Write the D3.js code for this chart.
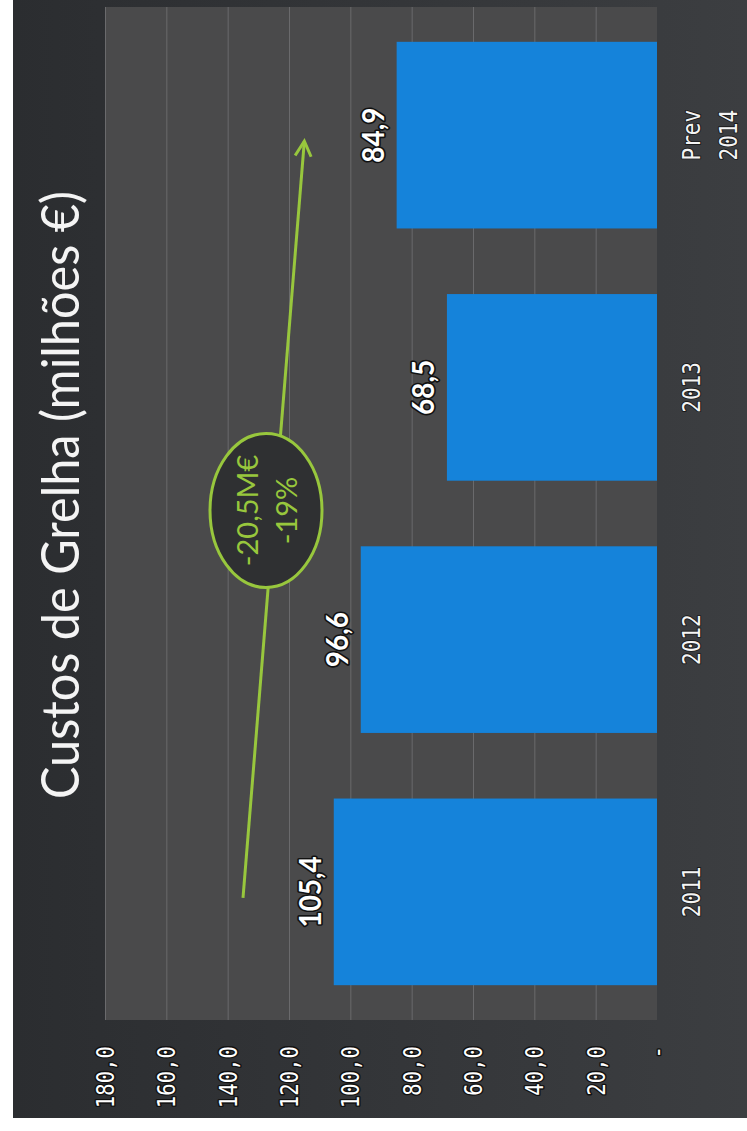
<!DOCTYPE html>
<html>
<head>
<meta charset="utf-8">
<script src="https://cdn.jsdelivr.net/npm/d3@7/dist/d3.min.js"></script>
<style>
  html, body { margin: 0; padding: 0; background: #ffffff; }
  svg { display: block; }
</style>
</head>
<body>
<svg id="chart"></svg>
<script>
// ---------- data ----------
const categories = ["2011", "2012", "2013", "Prev 2014"];
const values = [105.4, 96.6, 68.5, 84.9];
const tickValues = [0, 20, 40, 60, 80, 100, 120, 140, 160, 180];
const tickLabels = ["-", "20,0", "40,0", "60,0", "80,0", "100,0", "120,0", "140,0", "160,0", "180,0"];
const titleText = "Custos de Grelha (milhões €)";
const annotationLines = ["-20,5M€", "-19%"];
const arrowFromValue = 135;   // value level at 2011
const arrowToValue = 115;     // value level at Prev 2014
const ellipseValue = 127.5;   // value level of the annotation ellipse

// ---------- layout ----------
const W = 747, H = 1131;           // page (portrait)
const LW = H, LH = W;              // landscape drawing space (rotated -90deg)
const green = "#98c73d";

const svg = d3.select("#chart").attr("width", W).attr("height", H);
const defs = svg.append("defs");

const bgGrad = defs.append("linearGradient").attr("id", "bgGrad")
  .attr("x1", 0).attr("y1", 0).attr("x2", 0).attr("y2", 1);
bgGrad.append("stop").attr("offset", "0%").attr("stop-color", "#2b2d30");
bgGrad.append("stop").attr("offset", "100%").attr("stop-color", "#3c3e41");

const g = svg.append("g").attr("transform", `translate(0,${H}) rotate(-90)`);

// slide background
g.append("rect").attr("x", 13).attr("y", 13).attr("width", LW - 13).attr("height", LH - 13)
  .attr("fill", "url(#bgGrad)");

// scales
const x = d3.scaleBand().domain(categories).range([111, 1124])
  .paddingInner(0.26).paddingOuter(0.138);
const y = d3.scaleLinear().domain([0, 180]).range([657, 105]);

// plot area
g.append("rect").attr("x", 111).attr("y", y(180)).attr("width", 1124 - 111)
  .attr("height", y(0) - y(180)).attr("fill", "#4a4a4b");

// gridlines
g.append("g").selectAll("line").data(tickValues.filter(v => v > 0)).join("line")
  .attr("x1", 111).attr("x2", 1124)
  .attr("y1", d => y(d) + 0.5).attr("y2", d => y(d) + 0.5)
  .attr("stroke", "#6a6a6c").attr("stroke-width", 1);

function condense(sel, f) {
  sel.each(function () {
    const L = this.getComputedTextLength();
    d3.select(this).attr("textLength", L * f).attr("lengthAdjust", "spacingAndGlyphs");
  });
}

// value axis labels
const axis = d3.axisLeft(y).tickValues(tickValues).tickFormat((d, i) => tickLabels[i]).tickSize(0);
const axG = g.append("g").attr("transform", "translate(85,0)").call(axis);
axG.select(".domain").remove();
axG.selectAll("text")
  .attr("x", 0).attr("dy", "0.36em")
  .attr("text-anchor", "end")
  .attr("font-family", "'DejaVu Sans Mono', monospace")
  .attr("font-size", 24)
  .attr("fill", "#ffffff")
  .attr("stroke", "#111")
  .attr("stroke-width", 3)
  .attr("stroke-linejoin", "round")
  .attr("paint-order", "stroke");
condense(axG.selectAll("text"), 0.86);

// bars
g.append("g").selectAll("rect").data(values).join("rect")
  .attr("x", (d, i) => x(categories[i]))
  .attr("width", x.bandwidth())
  .attr("y", d => y(d))
  .attr("height", d => y(0) - y(d))
  .attr("fill", "#1583da");

// value labels
const loc = d3.formatLocale({ decimal: ",", thousands: ".", grouping: [3], currency: ["", "€"] });
const fmt = loc.format(".1f");
const vl = g.append("g").selectAll("text").data(values).join("text")
  .attr("x", (d, i) => x(categories[i]) + x.bandwidth() / 2)
  .attr("y", d => y(d) - 13)
  .attr("text-anchor", "middle")
  .attr("font-family", "Lato, sans-serif")
  .attr("font-weight", 700)
  .attr("font-size", 31)
  .attr("fill", "#ffffff")
  .attr("stroke", "#111")
  .attr("stroke-width", 3.5)
  .attr("stroke-linejoin", "round")
  .attr("paint-order", "stroke")
  .text(d => fmt(d));
condense(vl, 0.9);

// category labels
const cl = g.append("g").selectAll("text").data(categories).join("text")
  .attr("x", d => x(d) + x.bandwidth() / 2)
  .attr("y", 700)
  .attr("text-anchor", "middle")
  .attr("font-family", "'DejaVu Sans Mono', monospace")
  .attr("font-size", 24)
  .attr("fill", "#f4f4f4")
  .attr("stroke", "#1a1a1a")
  .attr("stroke-width", 2)
  .attr("stroke-linejoin", "round")
  .attr("paint-order", "stroke");
cl.each(function (d) {
  const parts = d.split(" ");
  const t = d3.select(this);
  parts.forEach((p, j) => {
    t.append("tspan").attr("x", x(d) + x.bandwidth() / 2)
      .attr("dy", j === 0 ? 0 : 37).text(p);
  });
});
cl.selectAll("tspan").each(function () {
  const L = this.getComputedTextLength();
  d3.select(this).attr("textLength", L * 0.88).attr("lengthAdjust", "spacingAndGlyphs");
});

// title
g.append("text")
  .attr("x", 636).attr("y", 79)
  .attr("text-anchor", "middle")
  .attr("font-family", "Lato, sans-serif")
  .attr("font-size", 52)
  .attr("fill", "#f4f4f4")
  .attr("textLength", 608)
  .attr("lengthAdjust", "spacingAndGlyphs")
  .text(titleText);

// trend arrow
const cx = c => x(c) + x.bandwidth() / 2;
const x1 = cx(categories[0]) - 6, y1 = y(arrowFromValue);
const x2 = cx(categories[categories.length - 1]) - 6, y2 = y(arrowToValue);
g.append("line").attr("x1", x1).attr("y1", y1).attr("x2", x2).attr("y2", y2)
  .attr("stroke", green).attr("stroke-width", 3);
const ang = Math.atan2(y2 - y1, x2 - x1);
const ah = 15, aw = 8;
const p = (l, w) => [x2 - l * Math.cos(ang) - w * Math.sin(ang), y2 - l * Math.sin(ang) + w * Math.cos(ang)];
g.append("path")
  .attr("d", d3.line()([p(ah, -aw), [x2, y2], p(ah, aw)]))
  .attr("fill", "none").attr("stroke", green).attr("stroke-width", 3)
  .attr("stroke-linejoin", "miter");

// annotation ellipse
const ex = (cx(categories[1]) + cx(categories[2])) / 2 + 3;
const ey = y(ellipseValue);
g.append("ellipse").attr("cx", ex).attr("cy", ey).attr("rx", 77).attr("ry", 56)
  .attr("fill", "#2f3032").attr("stroke", green).attr("stroke-width", 3);
const at = g.append("text")
  .attr("text-anchor", "middle")
  .attr("font-family", "Lato, sans-serif")
  .attr("font-size", 29)
  .attr("fill", green);
annotationLines.forEach((s, i) => {
  at.append("tspan").attr("x", ex).attr("y", ey - 8 + i * 39).text(s);
});
</script>
</body>
</html>
